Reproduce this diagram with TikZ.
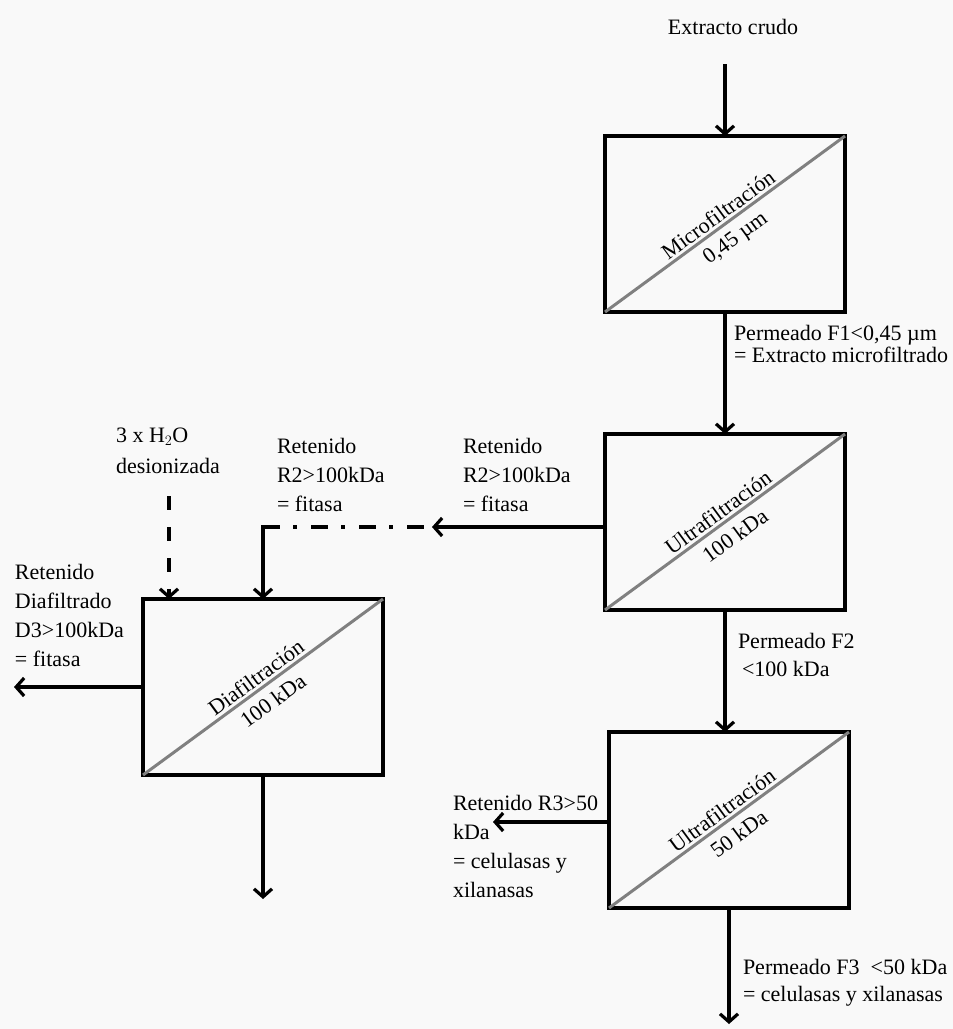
\documentclass[tikz,border=0pt]{standalone}
\usepackage{fontspec}
\setmainfont{Liberation Serif}
\usetikzlibrary{arrows.meta,positioning}
\definecolor{membranecolor}{gray}{0.5}
\definecolor{paperfillcolor}{gray}{0.975}

\begin{document}
\begin{tikzpicture}[
	x=1pt, y=1pt,
	unitbox/.style={rectangle, draw, line width=3.5pt, minimum width=240pt, minimum height=176pt},
	flow/.style={-{Straight Barb[length=8pt,width=18pt]}, line width=3.2pt},
	recycle/.style={line width=3.2pt, dash pattern=on 17pt off 13pt on 4pt off 14pt},
	wateradd/.style={flow, dash pattern=on 14pt off 17pt},
	flowlabel/.style={align=left, anchor=north west, inner sep=0pt},
	node distance=298pt,
	every node/.style={outer sep=0pt, font=\fontsize{22}{29}\selectfont},
]
\useasboundingbox[fill=paperfillcolor] (0,0) rectangle (953,-1029);
% \filterunit[position](name){text above membrane}{text below membrane}
\def\filterunit[#1](#2)#3#4{
	\node[unitbox, #1](#2){};
	\draw[draw=membranecolor, line width=3pt] (#2.south west)
		-- node[sloped, above, inner sep=4pt]{#3}
		node[sloped, below, inner sep=9pt]{#4} (#2.north east);
}
	\filterunit[at={(725,-224)}](B1){Microfiltración}{0,45 µm}
	\filterunit[below of=B1](B2){Ultrafiltración}{100 kDa}
	\filterunit[below of=B2, xshift=4pt](B3){Ultrafiltración}{50 kDa}
	\filterunit[below of=B2, node distance=165pt, xshift=-462pt](BD){Diafiltración}{100 kDa}

	% Feed and permeate line
	\node (crude) at (733,-27) {Extracto crudo};
	\coordinate (feed) at ([yshift=72pt]B1.north);
	\draw[flow] (feed) -- (B1);
	\draw[flow] (B1) -- (B2);
	\draw[flow] (B2.south) -- (B2.south |- B3.north);
	\coordinate (F3out) at ([yshift=-116pt]B3.south);
	\draw[flow] (B3) -- (F3out);
	\node[flowlabel, font=\fontsize{22}{22}\selectfont] (F1label) at (734,-325)
		{Permeado F1<0,45 µm\\= Extracto microfiltrado};
	\node[flowlabel, font=\fontsize{22}{28}\selectfont] (F2label) at (738,-633)
		{Permeado F2\\\hspace*{4pt}<100 kDa};
	\node[flowlabel, font=\fontsize{22}{27}\selectfont] (F3label) at (743,-959)
		{Permeado F3~ <50 kDa\\= celulasas y xilanasas};

	% Retentate of 100 kDa to diafiltration
	\coordinate (R2tip) at ([xshift=-173pt, yshift=-5pt]B2.west);
	\coordinate (R2corner) at (R2tip -| BD.north);
	\draw[flow] ([yshift=-5pt]B2.west) -- (R2tip);
	\draw[recycle] (R2corner) -- ([xshift=-4pt]R2tip);
	\draw[flow] ([yshift=1.6pt]R2corner) -- (R2corner |- BD.north);
	\node[flowlabel] (R2label) at (463,-438) {Retenido\\R2>100kDa\\= fitasa};
	\node[flowlabel] (R2copy) at (277,-438) {Retenido\\R2>100kDa\\= fitasa};

	% Water for diafiltration
	\coordinate (water) at ([xshift=-94pt, yshift=103pt]BD.north);
	\draw[wateradd] (water) -- (water |- BD.north);
	\node[flowlabel, font=\fontsize{22}{31}\selectfont] (waterlabel) at (116,-428)
		{3 x H$_2$O\\desionizada};

	% Diafiltration outlets
	\coordinate (Dout) at ([xshift=-129pt]BD.west);
	\draw[flow] (BD.west) -- (Dout);
	\coordinate (Dbottom) at ([yshift=-124pt]BD.south);
	\draw[flow] (BD) -- (Dbottom);
	\node[flowlabel] (Dlabel) at (15,-564)
		{Retenido\\Diafiltrado\\D3>100kDa\\= fitasa};

	% Retentate of 50 kDa
	\coordinate (R3tip) at ([xshift=-116pt, yshift=-2pt]B3.west);
	\draw[flow] ([yshift=-2pt]B3.west) -- (R3tip);
	\node[flowlabel] (R3label) at (453,-795)
		{Retenido R3>50\\kDa\\= celulasas y\\xilanasas};
\end{tikzpicture}
\end{document}
